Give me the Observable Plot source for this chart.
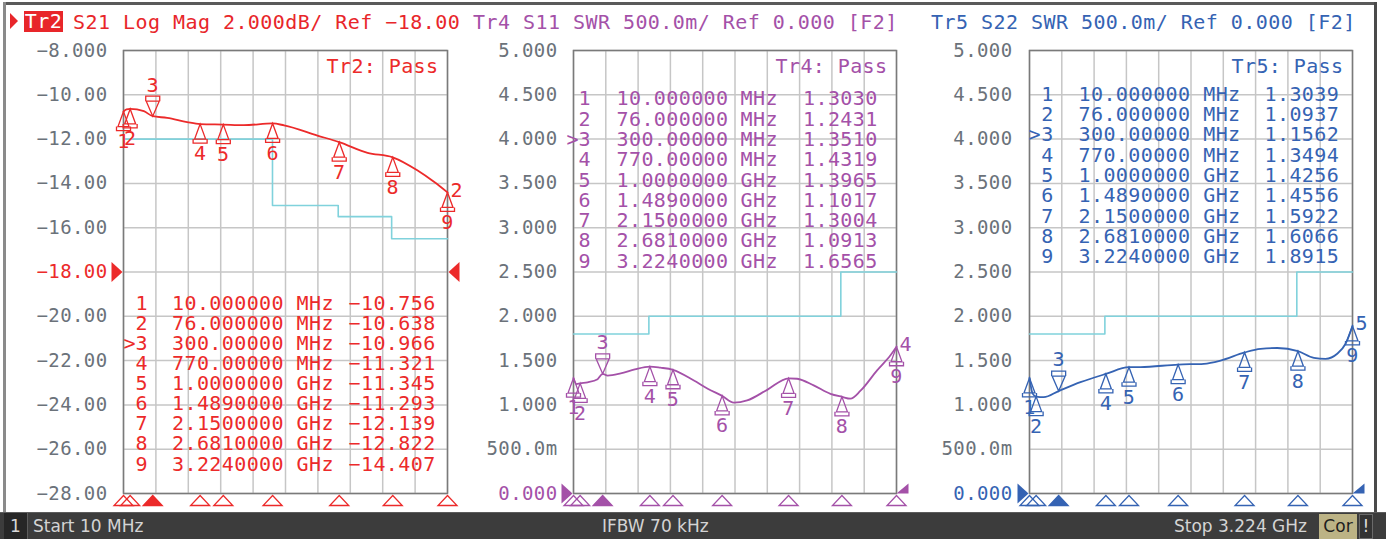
<!DOCTYPE html>
<html>
<head>
<meta charset="utf-8">
<script src="https://cdn.jsdelivr.net/npm/d3@7"></script>
<script src="https://cdn.jsdelivr.net/npm/@observablehq/plot@0.6"></script>
<style>
  html, body { margin: 0; padding: 0; background: #fff; }
  #root { position: relative; width: 1386px; height: 539px; overflow: hidden; background: #fff; font-family: "DejaVu Sans Mono", monospace; }
  .pane { position: absolute; top: 40px; }
  .pane svg text { letter-spacing: 0.4px; }
  .hdr { position: absolute; top: 10px; height: 24px; line-height: 24px; font-size: 20px; letter-spacing: 0.45px; white-space: pre; }
  #status { position: absolute; left: 0; top: 512px; width: 1386px; height: 27px; background: #3c3c3c; border-top: 1px solid #5c5c5c; box-sizing: border-box; font-family: "DejaVu Sans", sans-serif; font-size: 17px; color: #d4d4d4; }
  #status span, #status div { position: absolute; top: 0; height: 26px; line-height: 26px; white-space: pre; }
</style>
</head>
<body>
<div id="root">
  <div style="position:absolute;left:3px;top:2px;width:1374px;height:3px;background:#5a5a5a"></div>
  <div style="position:absolute;left:3px;top:2px;width:3px;height:510px;background:#8a8a8a"></div>
  <div style="position:absolute;left:1374px;top:2px;width:3px;height:510px;background:#4a4a4a"></div>

  <div style="position:absolute;left:10px;top:13px;width:0;height:0;border-top:8px solid transparent;border-bottom:8px solid transparent;border-left:8px solid #e8262a"></div>
  <div class="hdr" style="left:24px;top:11px;width:39px;height:21px;line-height:21px;background:#e8262a;color:#fff;text-align:center">Tr2</div>
  <div class="hdr" id="h1" style="left:73px;color:#e8262a;width:388px;overflow:hidden"></div>
  <div class="hdr" id="h2" style="left:473px;color:#a451a8"></div>
  <div class="hdr" id="h3" style="left:931px;color:#3563b3"></div>

  <div class="pane" id="p1" style="left:8px"></div>
  <div class="pane" id="p2" style="left:463px"></div>
  <div class="pane" id="p3" style="left:919px"></div>

  <div id="status">
    <div style="left:4px;width:23px;background:#262626;border-right:1px solid #5c5c5c;text-align:center;color:#d8d8d8">1</div>
    <span style="left:33px">Start 10 MHz</span>
    <span style="left:602px">IFBW 70 kHz</span>
    <span style="right:79px">Stop 3.224 GHz</span>
    <div style="left:1319px;width:38px;top:1px;height:25px;line-height:25px;background:#bcb385;color:#1e1e1e;text-align:center">Cor</div>
    <div style="left:1359px;width:12px;top:1px;height:23px;line-height:23px;border:1px solid #6a6a6a;background:#333;color:#ddd;text-align:center">!</div>
  </div>
</div>

<script>
// ---------- data ----------
const headers = ["S21 Log Mag 2.000dB/ Ref \u221218.00", "Tr4 S11 SWR 500.0m/ Ref 0.000 [F2]", "Tr5 S22 SWR 500.0m/ Ref 0.000 [F2]"];
const startMHz = 10;
const stopMHz = 3224;

const markerFreqMHz = [10, 76, 300, 770, 1000, 1489, 2150, 2681, 3224];
const activeMarker = 3;

const s21MarkerVals = [-10.756, -10.638, -10.966, -11.321, -11.345, -11.293, -12.139, -12.822, -14.407];
const s11MarkerVals = [1.3030, 1.2431, 1.3510, 1.4319, 1.3965, 1.1017, 1.3004, 1.0913, 1.6565];
const s22MarkerVals = [1.3039, 1.0937, 1.1562, 1.3494, 1.4256, 1.4556, 1.5922, 1.6066, 1.8915];

const s21Freq = [10, 40, 76, 212, 300, 443, 641, 770, 1000, 1204, 1489, 1603, 1934, 2150, 2431, 2681, 2928, 3093, 3224];
const s21Vals = [-10.756, -10.66, -10.638, -10.74, -10.966, -11.04, -11.23, -11.321, -11.345, -11.37, -11.293, -11.38, -11.84, -12.139, -12.62, -12.822, -13.42, -13.94, -14.407];

const s11Freq = [10, 40, 76, 150, 250, 300, 350, 480, 620, 770, 875, 1000, 1208, 1350, 1489, 1605, 1738, 1937, 2150, 2235, 2400, 2567, 2681, 2766, 2866, 3031, 3164, 3224];
const s11Vals = [1.303, 1.235, 1.2431, 1.255, 1.29, 1.351, 1.33, 1.355, 1.40, 1.4319, 1.42, 1.3965, 1.275, 1.18, 1.1017, 1.025, 1.05, 1.17, 1.3004, 1.295, 1.22, 1.125, 1.0913, 1.07, 1.16, 1.39, 1.56, 1.6565];

const s22Freq = [10, 40, 76, 152, 300, 517, 770, 1000, 1115, 1489, 1745, 1911, 2150, 2309, 2475, 2681, 2840, 2956, 3072, 3155, 3224];
const s22Vals = [1.3039, 1.13, 1.0937, 1.087, 1.1562, 1.256, 1.3494, 1.4256, 1.426, 1.4556, 1.464, 1.50, 1.5922, 1.633, 1.642, 1.6066, 1.531, 1.52, 1.577, 1.69, 1.8915];

const s21LimitFreq = [10, 1488, 2140, 2670, 3224];
const s21LimitVals = [-12, -15, -15.5, -16.5, -16.5];
const s11LimitFreq = [10, 760, 2670, 3224];
const s11LimitVals = [1.8, 2.0, 2.5, 2.5];
const s22LimitFreq = [10, 760, 2670, 3224];
const s22LimitVals = [1.8, 2.0, 2.5, 2.5];

const s21TickVals = [-8, -10, -12, -14, -16, -18, -20, -22, -24, -26, -28];
const s21TickLabels = ["\u22128.000", "\u221210.00", "\u221212.00", "\u221214.00", "\u221216.00", "\u221218.00", "\u221220.00", "\u221222.00", "\u221224.00", "\u221226.00", "\u221228.00"];
const swrTickVals = [5, 4.5, 4, 3.5, 3, 2.5, 2, 1.5, 1, 0.5, 0];
const swrTickLabels = ["5.000", "4.500", "4.000", "3.500", "3.000", "2.500", "2.000", "1.500", "1.000", "500.0m", "0.000"];

// ---------- helpers ----------
document.getElementById("h1").textContent = headers[0];
document.getElementById("h2").textContent = headers[1];
document.getElementById("h3").textContent = headers[2];

const xGrid = d3.range(11).map(i => startMHz + i * (stopMHz - startMHz) / 10);

const symBelow = { draw(c) { c.moveTo(0, 0); c.lineTo(-5.5, 15); c.lineTo(5.5, 15); c.closePath();
  c.moveTo(-7, 15); c.lineTo(-7, 19); c.lineTo(7, 19); c.lineTo(7, 15); } };
const symAbove = { draw(c) { c.moveTo(0, 0); c.lineTo(-6.5, -15); c.lineTo(6.5, -15); c.closePath();
  c.moveTo(-7, -15); c.lineTo(-7, -20); c.lineTo(7, -20); c.lineTo(7, -15); } };
const symBottom = { draw(c) { c.moveTo(0, 2); c.lineTo(9.5, 12); c.lineTo(-9.5, 12); c.closePath(); } };
const symRefL = { draw(c) { c.moveTo(-1, 0); c.lineTo(-12, -10); c.lineTo(-12, 10); c.closePath(); } };
const symRefR = { draw(c) { c.moveTo(1, 0); c.lineTo(12, -10); c.lineTo(12, 10); c.closePath(); } };
const symRefRHalf = { draw(c) { c.moveTo(0, 0); c.lineTo(12, -10); c.lineTo(12, 0); c.closePath(); } };

const freqText = f => f < 1000 ? f.toPrecision(8) : (f / 1000).toPrecision(8);
const unitText = f => f < 1000 ? "MHz" : "GHz";

function panel(o) {
  const trace = o.freq.map((f, i) => ({f, v: o.vals[i]}));
  const limit = o.limFreq.map((f, i) => ({f, v: o.limVals[i]}));
  const markers = markerFreqMHz.map((f, i) => ({f, v: o.mVals[i], n: i + 1}));
  const inactive = markers.filter(d => d.n !== activeMarker);
  const active = markers.filter(d => d.n === activeMarker);
  const ticks = o.tickVals.map((v, i) => ({v, label: o.tickLabels[i]}));
  const col = o.color;
  const rowH = o.lineH;
  const lines = {
    num: markers.map(d => String(d.n)).join("\n"),
    freq: markers.map(d => freqText(d.f)).join("\n"),
    unit: markers.map(d => unitText(d.f)).join("\n"),
    val: markers.map(d => o.fmt(d.v)).join("\n")
  };
  const tbl = (text, dx) => Plot.text([text], {frameAnchor: "top-left", text: d => d, dx, dy: o.tblDy, lineAnchor: "top", lineHeight: rowH, textAnchor: "start", fill: col, fontSize: 20});
  const last = trace[trace.length - 1];
  return Plot.plot({
    width: 455, height: 470,
    marginLeft: o.mL, marginRight: o.mR, marginTop: 10, marginBottom: 17,
    x: {domain: [startMHz, stopMHz], axis: null},
    y: {domain: o.yDomain, axis: null},
    style: {background: "none", fontFamily: "DejaVu Sans Mono", overflow: "visible"},
    marks: [
      Plot.ruleX(xGrid, {x: d => d, stroke: "#c6c6c6", strokeWidth: 1.5}),
      Plot.ruleY(o.tickVals, {y: d => d, stroke: "#c6c6c6", strokeWidth: 1.5}),
      Plot.frame({stroke: "#7a7a7a", strokeWidth: 1.5}),
      Plot.text(ticks.filter(d => d.v !== o.refVal), {y: "v", text: "label", frameAnchor: "left", dx: o.tickDx, textAnchor: "end", lineAnchor: "middle", fill: "#6b727a", fontSize: 19}),
      Plot.text(ticks.filter(d => d.v === o.refVal), {y: "v", text: "label", frameAnchor: "left", dx: o.tickDx, textAnchor: "end", lineAnchor: "middle", fill: col, fontSize: 19}),
      Plot.text([o.pass], {frameAnchor: "top-right", text: d => d, dx: -9, dy: 16.5, textAnchor: "end", lineAnchor: "middle", fill: col, fontSize: 20}),
      tbl(lines.num, o.tblX[0]),
      Plot.text([">"], {frameAnchor: "top-left", text: d => d, dx: o.tblX[4], dy: o.tblDy + 2 * rowH * 20, lineAnchor: "top", textAnchor: "start", fill: col, fontSize: 20}),
      tbl(lines.freq, o.tblX[1]),
      tbl(lines.unit, o.tblX[2]),
      tbl(lines.val, o.tblX[3]),
      Plot.line(limit, {x: "f", y: "v", curve: "step-after", stroke: "#80d2dc", strokeWidth: 1.6}),
      Plot.line(trace, {x: "f", y: "v", curve: "monotone-x", stroke: col, strokeWidth: 1.8}),
      Plot.dot(inactive, {x: "f", y: "v", symbol: symBelow, fill: "none", stroke: col, strokeWidth: 1.3}),
      Plot.text(inactive, {x: "f", y: "v", text: "n", dy: 30, fill: col, fontSize: 20}),
      Plot.dot(active, {x: "f", y: "v", symbol: symAbove, fill: "none", stroke: col, strokeWidth: 1.3}),
      Plot.text(active, {x: "f", y: "v", text: "n", dy: -31, fill: col, fontSize: 20}),
      Plot.text([last], {x: "f", y: "v", text: () => o.traceId, dx: 3, dy: -2, textAnchor: "start", fill: col, fontSize: 20}),
      Plot.dot(inactive, {x: "f", frameAnchor: "bottom", symbol: symBottom, fill: "none", stroke: col, strokeWidth: 1.3}),
      Plot.dot(active, {x: "f", frameAnchor: "bottom", symbol: symBottom, fill: col, stroke: col, strokeWidth: 1.3}),
      Plot.dot([o.refVal], {y: d => d, frameAnchor: "left", symbol: symRefL, fill: col, stroke: "none"}),
      Plot.dot([o.refVal], {y: d => d, frameAnchor: "right", symbol: o.halfRight ? symRefRHalf : symRefR, fill: col, stroke: "none"})
    ]
  });
}

document.getElementById("p1").append(panel({
  freq: s21Freq, vals: s21Vals, limFreq: s21LimitFreq, limVals: s21LimitVals, mVals: s21MarkerVals,
  tickVals: s21TickVals, tickLabels: s21TickLabels, refVal: -18, yDomain: [-28, -8],
  color: "#ec2a2a", mL: 115, mR: 16, tickDx: -16, pass: "Tr2: Pass", traceId: "2",
  fmt: v => (v < 0 ? "\u2212" : "") + Math.abs(v).toFixed(3),
  tblX: [12, 48.5, 173, 225, 0], tblDy: 245, lineH: 1.005, halfRight: false
}));
document.getElementById("p2").append(panel({
  freq: s11Freq, vals: s11Vals, limFreq: s11LimitFreq, limVals: s11LimitVals, mVals: s11MarkerVals,
  tickVals: swrTickVals, tickLabels: swrTickLabels, refVal: 0, yDomain: [0, 5],
  color: "#a451a8", mL: 110, mR: 22, tickDx: -16, pass: "Tr4: Pass", traceId: "4",
  fmt: v => v.toFixed(4),
  tblX: [5, 43, 167, 229.5, -7], tblDy: 40.4, lineH: 1.015, halfRight: true
}));
document.getElementById("p3").append(panel({
  freq: s22Freq, vals: s22Vals, limFreq: s22LimitFreq, limVals: s22LimitVals, mVals: s22MarkerVals,
  tickVals: swrTickVals, tickLabels: swrTickLabels, refVal: 0, yDomain: [0, 5],
  color: "#3563b3", mL: 110, mR: 22, tickDx: -17, pass: "Tr5: Pass", traceId: "5",
  fmt: v => v.toFixed(4),
  tblX: [11.7, 49, 173.7, 235, -1], tblDy: 35.8, lineH: 1.015, halfRight: true
}));
</script>
</body>
</html>
